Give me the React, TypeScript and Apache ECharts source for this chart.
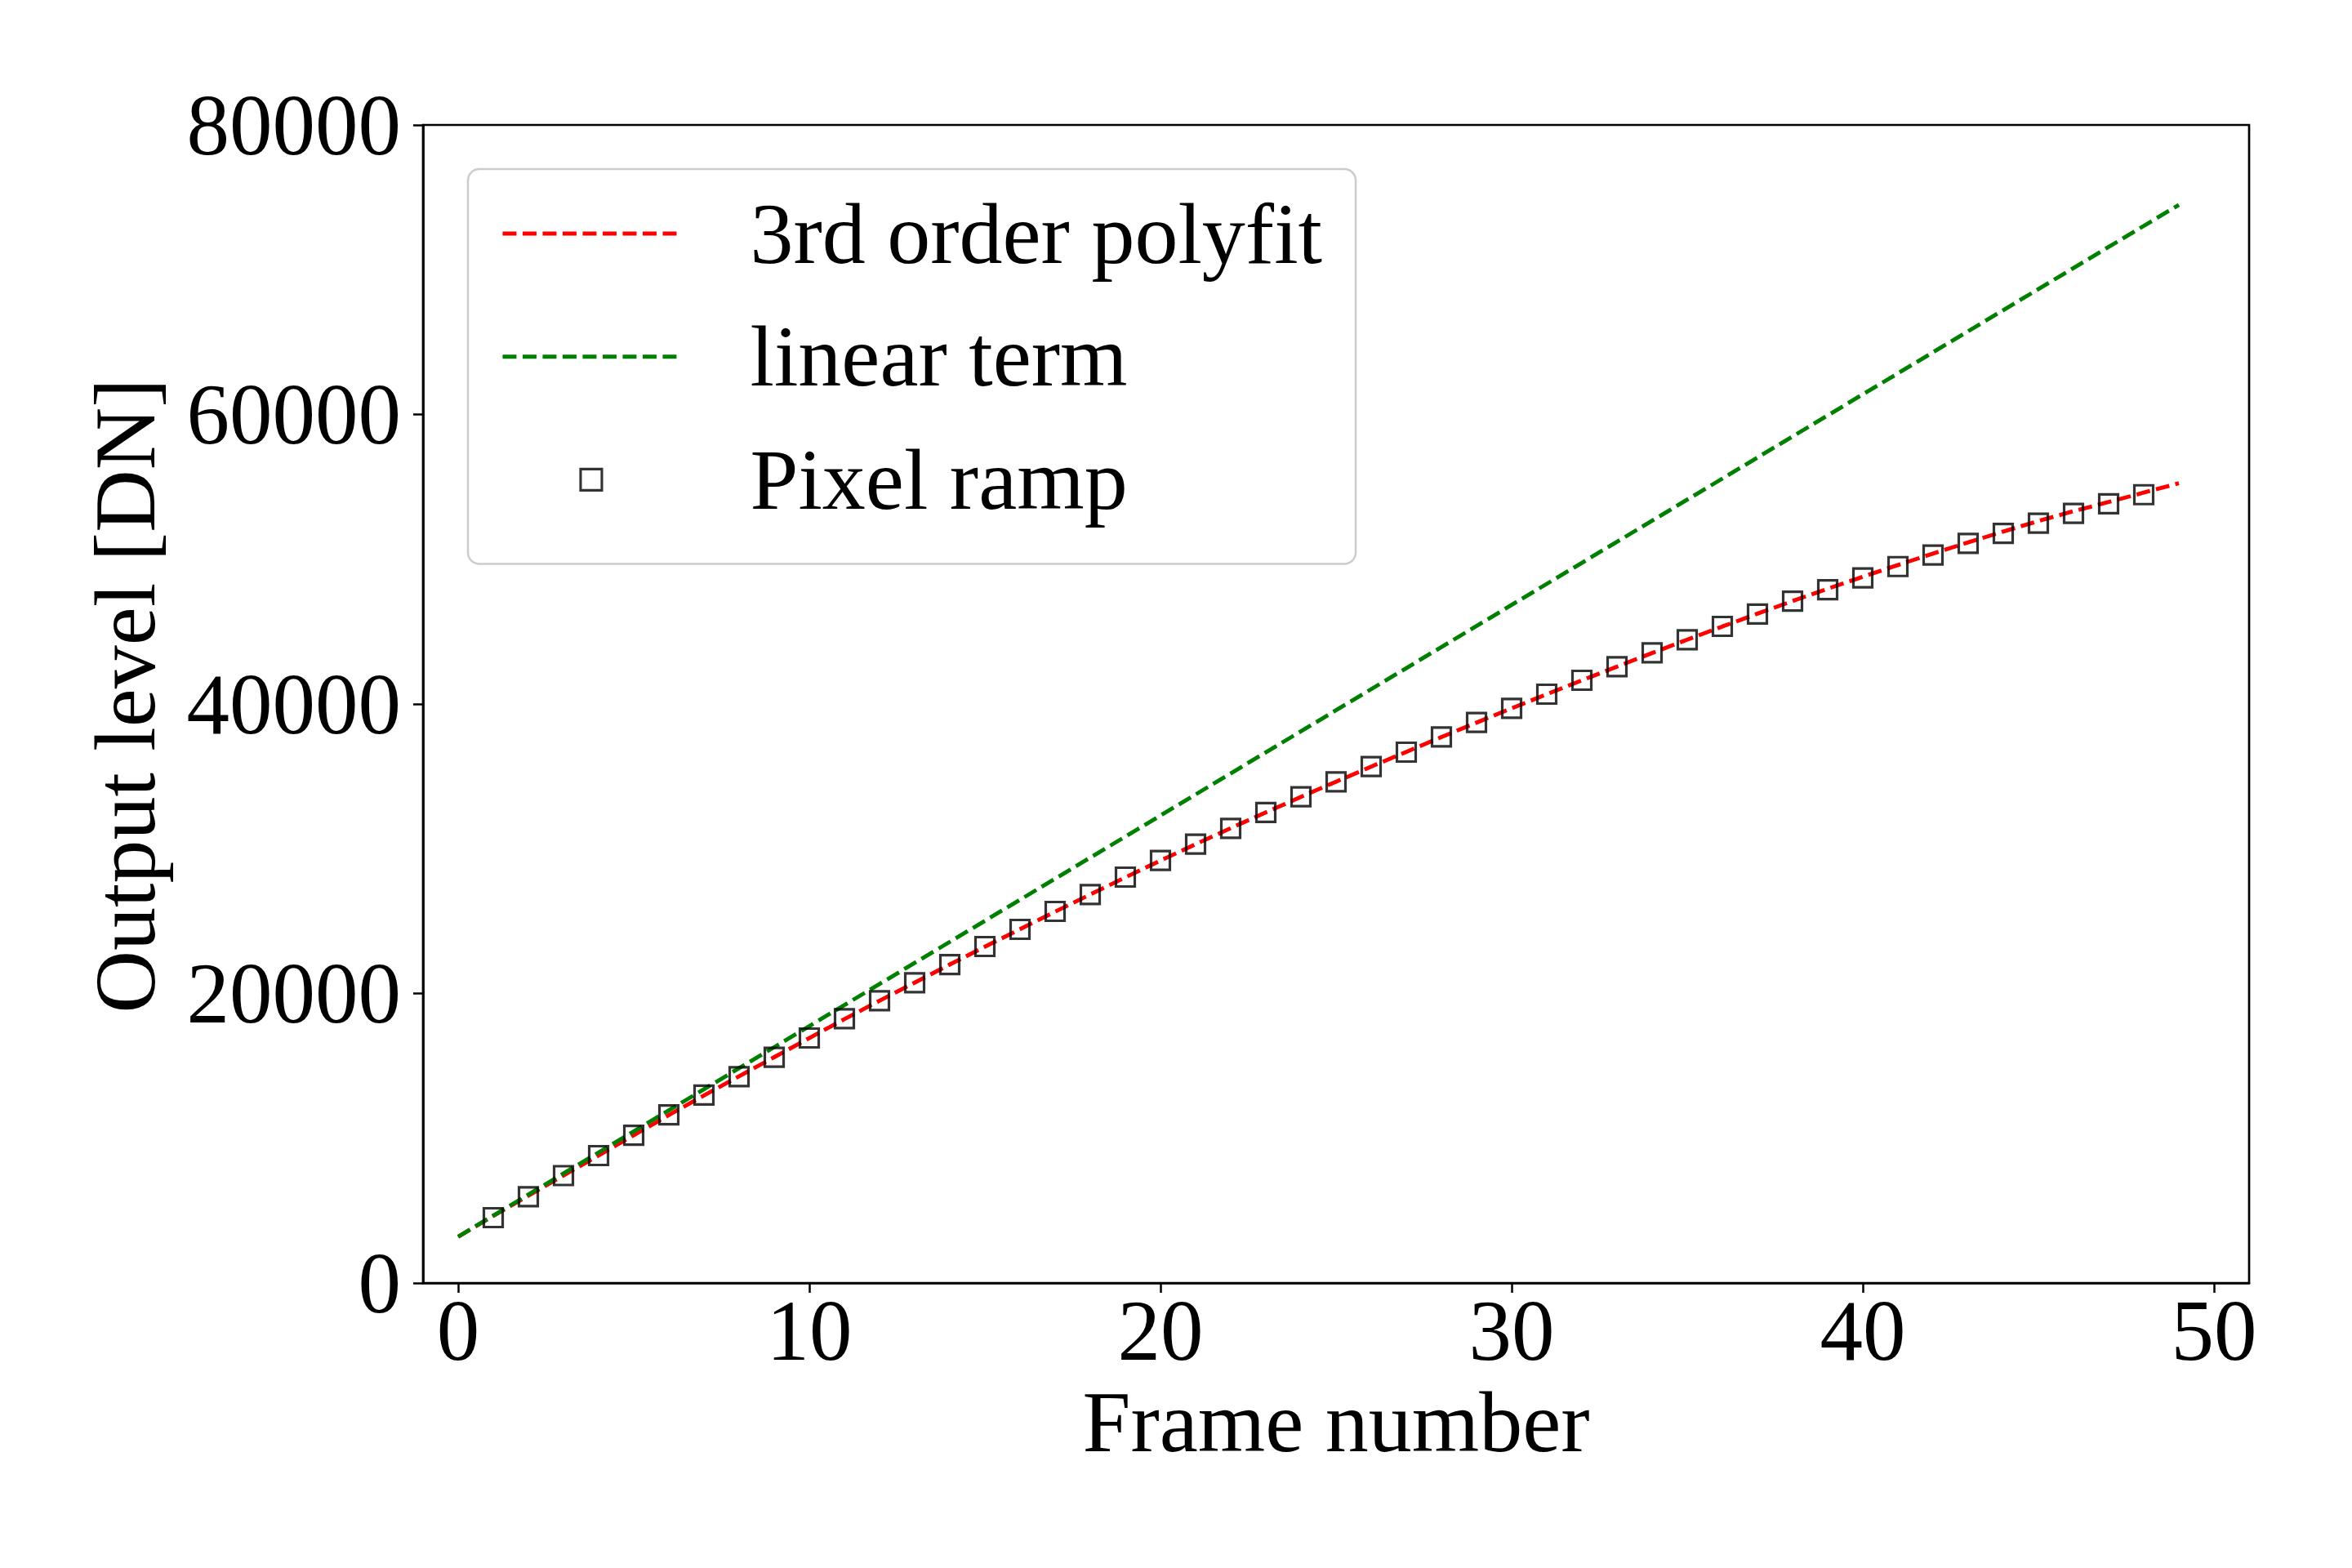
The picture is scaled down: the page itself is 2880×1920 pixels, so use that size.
import React, { useEffect, useRef } from "react";
import * as echarts from "echarts";

// Pixel ramp samples (frame number -> output level in DN)
const frameNumbers = [
  1, 2, 3, 4, 5, 6, 7, 8, 9, 10, 11, 12, 13, 14, 15, 16, 17, 18, 19, 20, 21, 22, 23, 24,
  25, 26, 27, 28, 29, 30, 31, 32, 33, 34, 35, 36, 37, 38, 39, 40, 41, 42, 43, 44, 45, 46, 47, 48,
];
const pixelRamp = [
  4513, 5963, 7419, 8800, 10210, 11620, 12980, 14256, 15590, 16925, 18260, 19500,
  20740, 22000, 23245, 24430, 25670, 26838, 28040, 29185, 30315, 31405, 32500, 33585,
  34620, 35675, 36670, 37725, 38720, 39700, 40677, 41636, 42578, 43537, 44440, 45360,
  46215, 47100, 47896, 48714, 49492, 50293, 51089, 51782, 52493, 53164, 53830, 54456,
];

// 3rd order polyfit curve, read at each frame
const fitFrames = [
  0, 1, 2, 3, 4, 5, 6, 7, 8, 9, 10, 11, 12, 13, 14, 15, 16, 17, 18, 19, 20, 21, 22, 23, 24,
  25, 26, 27, 28, 29, 30, 31, 32, 33, 34, 35, 36, 37, 38, 39, 40, 41, 42, 43, 44, 45, 46, 47, 48, 49,
];
const fitValues = [
  3200, 4640, 6030, 7430, 8810, 10210, 11600, 12960, 14280, 15600, 16920, 18230, 19500,
  20750, 22000, 23230, 24440, 25650, 26840, 28020, 29180, 30310, 31420, 32510, 33580,
  34630, 35670, 36690, 37710, 38710, 39700, 40670, 41630, 42580, 43520, 44440, 45350,
  46240, 47110, 47960, 48790, 49600, 50390, 51160, 51910, 52640, 53320, 53950, 54600, 55250,
];

// linear term of the fit
const linearFrames = [0, 49];
const linearValues = [3200, 74480];

// axis ticks
const xTickValues = [0, 10, 20, 30, 40, 50];
const yTickInterval = 20000;

const FONT = "'Liberation Serif', 'Times New Roman', Times, serif";
const HIDDEN_SYMBOL = { color: "rgba(0,0,0,0)", borderColor: "rgba(0,0,0,0)", borderWidth: 0, opacity: 0 };

export default function App() {
  const ref = useRef<HTMLDivElement | null>(null);

  useEffect(() => {
    if (!ref.current) return;
    const chart = echarts.init(ref.current, null, { renderer: "svg" });

    const axisLineStyle = { color: "#000", width: 2.7 };
    const tickStyle = { color: "#000", width: 2.5 };
    const dash = [17, 7.5];
    const lineW = 4.9;

    const option: any = {
      animation: false,
      backgroundColor: "#ffffff",
      grid: {
        left: 518,
        right: 126,
        top: 153,
        bottom: 349,
        show: true,
        borderColor: "#000",
        borderWidth: 2.7,
        backgroundColor: "transparent",
      },
      xAxis: {
        type: "value",
        min: -1,
        max: 51,
        name: "Frame number",
        nameLocation: "middle",
        nameGap: 117,
        nameTextStyle: { fontFamily: FONT, fontSize: 106, lineHeight: 106, color: "#000" },
        axisLine: { show: true, onZero: false, lineStyle: axisLineStyle },
        axisTick: { show: true, length: 12, lineStyle: tickStyle, customValues: xTickValues },
        axisLabel: {
          customValues: xTickValues,
          margin: 5.5,
          fontFamily: FONT,
          fontSize: 105,
          lineHeight: 105,
          color: "#000",
        },
        splitLine: { show: false },
      },
      yAxis: {
        type: "value",
        min: 0,
        max: 80000,
        interval: yTickInterval,
        name: "Output level [DN]",
        nameLocation: "middle",
        nameGap: 312,
        nameTextStyle: {
          fontFamily: FONT,
          fontSize: 106,
          lineHeight: 106,
          color: "#000",
          padding: [0, 0, 0, 20],
        },
        axisLine: { show: true, onZero: false, lineStyle: axisLineStyle },
        axisTick: { show: true, length: 12, lineStyle: tickStyle },
        axisLabel: {
          margin: 27,
          fontFamily: FONT,
          fontSize: 105,
          lineHeight: 105,
          color: "#000",
          showMinLabel: true,
          showMaxLabel: true,
          formatter: (v: number) => String(v),
        },
        splitLine: { show: false },
      },
      legend: {
        orient: "vertical",
        left: 573,
        top: 207,
        padding: [26, 41, 50, 40],
        itemWidth: 217,
        itemHeight: 26,
        itemGap: 44.7,
        selectedMode: false,
        symbolKeepAspect: true,
        backgroundColor: "rgba(255,255,255,0.8)",
        borderColor: "#cccccc",
        borderWidth: 2.5,
        borderRadius: 14,
        textStyle: {
          fontFamily: FONT,
          fontSize: 106,
          lineHeight: 106,
          color: "#000",
          padding: [0, 0, 0, 81],
        },
        data: [
          {
            name: "3rd order polyfit",
            itemStyle: HIDDEN_SYMBOL,
            lineStyle: { color: "#ff0000", width: lineW, type: dash },
          },
          {
            name: "linear term",
            itemStyle: HIDDEN_SYMBOL,
            lineStyle: { color: "#008000", width: lineW, type: dash },
          },
          {
            name: "Pixel ramp",
            icon: "path://M0 0H24V24H0Z",
            itemStyle: { color: "rgba(0,0,0,0)", borderColor: "#000", borderWidth: 3.1 },
          },
        ],
      },
      series: [
        {
          name: "3rd order polyfit",
          type: "line",
          data: fitFrames.map((x, i) => [x, fitValues[i]]),
          symbol: "none",
          lineStyle: { color: "#ff0000", width: lineW, type: dash },
          itemStyle: { color: "#ff0000" },
          z: 2,
        },
        {
          name: "linear term",
          type: "line",
          data: linearFrames.map((x, i) => [x, linearValues[i]]),
          symbol: "none",
          lineStyle: { color: "#008000", width: lineW, type: dash },
          itemStyle: { color: "#008000" },
          z: 3,
        },
        {
          name: "Pixel ramp",
          type: "scatter",
          data: frameNumbers.map((x, i) => [x, pixelRamp[i]]),
          symbol: "rect",
          symbolSize: 23,
          itemStyle: { color: "rgba(0,0,0,0)", borderColor: "#000", borderWidth: 3.2 },
          z: 4,
        },
      ],
    };

    chart.setOption(option);
    return () => {
      chart.dispose();
    };
  }, []);

  return (
    <div
      ref={ref}
      style={{ position: "fixed", left: 0, top: 0, width: 2880, height: 1920, background: "#fff" }}
    />
  );
}
